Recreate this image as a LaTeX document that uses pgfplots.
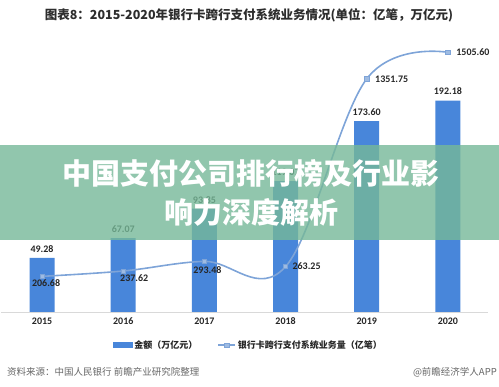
\documentclass[border=0pt]{standalone}
\usepackage{pgfplots}
\usepackage{pgfplotstable}
\pgfplotsset{compat=1.18}
\usepackage{fontspec}
\setmainfont{Carlito}
\newfontfamily\cjk{Noto Sans CJK SC}
\definecolor{barblue}{RGB}{72,134,218}
\definecolor{lineblue}{RGB}{126,164,216}
\definecolor{bannergreen}{RGB}{118,184,152}
\definecolor{titlegray}{RGB}{45,45,45}

\pgfplotstableread{
x y
0 49.28
1 67.07
2 93.85
3 119.07
4 173.60
5 192.18
}\bartable

\pgfplotstableread{
x y
0 206.68
1 237.62
2 293.48
3 263.25
4 1351.75
5 1505.60
}\linetable

\pgfplotsset{linelab/.style 2 args={draw=none, mark=none, forget plot, nodes near coords,
  nodes near coords style={font=\bfseries\fontsize{10}{12}\selectfont, text=black!85, anchor=center, xshift=#1, yshift=#2}}}

\begin{document}
\begin{tikzpicture}[x=1pt,y=1pt]
\path[use as bounding box] (0,0) rectangle (499,387);
\begin{axis}[at={(1.5pt,75pt)}, anchor=south west, scale only axis,
  width=487pt, height=267pt,
  ymin=0, ymax=242.7, xmin=-0.5, xmax=5.5,
  axis x line*=bottom, axis y line=none,
  x axis line style={draw=black!15, -, line width=0.8pt},
  xtick={0,1,2,3,4,5}, xticklabels={2015,2016,2017,2018,2019,2020},
  major tick length=0pt,
  xticklabel style={font=\bfseries\fontsize{10}{12}\selectfont, text=black!85, yshift=-2pt},
  /pgf/number format/assume math mode=true,
  /pgf/number format/.cd, fixed, fixed zerofill, precision=2, 1000 sep={},
  /pgfplots/.cd,
  ybar, bar width=25pt,
  nodes near coords,
  nodes near coords style={font=\bfseries\fontsize{10}{12}\selectfont, text=black!85, yshift=2pt},
]
\addplot[fill=barblue, draw=none] table[x=x, y=y] {\bartable};
\end{axis}
\begin{axis}[at={(1.5pt,75pt)}, anchor=south west, scale only axis,
  width=487pt, height=267pt,
  ymin=0, ymax=1548, xmin=-0.5, xmax=5.5,
  hide axis,
  /pgf/number format/assume math mode=true,
  /pgf/number format/.cd, fixed, fixed zerofill, precision=2, 1000 sep={},
  /pgfplots/.cd,
  legend style={draw=none, fill=none, at={(0.507,-0.124)}, anchor=center,
    font=\cjk\bfseries\fontsize{9}{11}\selectfont, text=black!85,
    /tikz/every even column/.append style={column sep=18pt}},
  legend columns=2,
]
\addlegendimage{legend image code/.code={\fill[barblue] (0pt,-2.5pt) rectangle (19pt,2.5pt);}}
\addlegendentry{金额（万亿元）}
\addplot[lineblue, line width=1.6pt, smooth, tension=0.6,
  mark=square*, mark size=2.2pt, mark options={fill=lineblue!75, draw=lineblue, line width=0.6pt},
] table[x=x, y=y] {\linetable};
\addlegendentry{银行卡跨行支付系统业务量（亿笔）}
\addplot[linelab={4pt}{-7pt}] coordinates {(0,206.68)};
\addplot[linelab={11pt}{-7pt}] coordinates {(1,237.62)};
\addplot[linelab={3pt}{-9pt}] coordinates {(2,293.48)};
\addplot[linelab={21pt}{0pt}] coordinates {(3,263.25)};
\addplot[linelab={25pt}{0pt}] coordinates {(4,1351.75)};
\addplot[linelab={25pt}{0pt}] coordinates {(5,1505.60)};
\end{axis}
\node[font=\cjk\bfseries\fontsize{12.5}{14}\selectfont, text=titlegray] at (249,372) {图表8：2015-2020年银行卡跨行支付系统业务情况(单位：亿笔，万亿元)};
\fill[bannergreen, fill opacity=0.8] (0,147) rectangle (499,242);
\node[font=\cjk\bfseries\fontsize{29}{32}\selectfont, text=white] at (251.5,214) {中国支付公司排行榜及行业影};
\node[font=\cjk\bfseries\fontsize{29}{32}\selectfont, text=white] at (251.5,175) {响力深度解析};
\node[anchor=west, font=\cjk\fontsize{9.5}{11}\selectfont, text=black!60, inner sep=0pt] at (7,15) {资料来源：中国人民银行 前瞻产业研究院整理};
\node[anchor=east, font=\cjk\fontsize{9.5}{11}\selectfont, text=black!60, inner sep=0pt] at (497,15) {@前瞻经济学人APP};
\end{tikzpicture}
\end{document}
